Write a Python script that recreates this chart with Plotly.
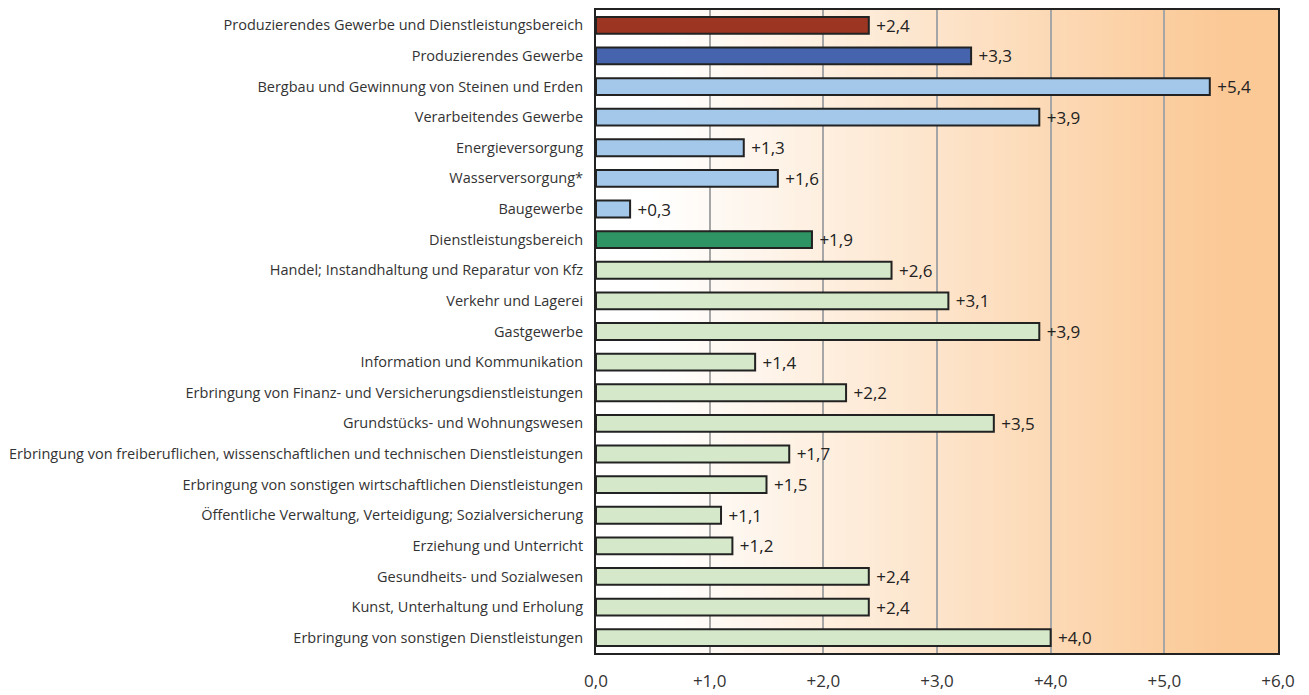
import plotly.graph_objects as go

categories = [
    "Produzierendes Gewerbe und Dienstleistungsbereich",
    "Produzierendes Gewerbe",
    "Bergbau und Gewinnung von Steinen und Erden",
    "Verarbeitendes Gewerbe",
    "Energieversorgung",
    "Wasserversorgung*",
    "Baugewerbe",
    "Dienstleistungsbereich",
    "Handel; Instandhaltung und Reparatur von Kfz",
    "Verkehr und Lagerei",
    "Gastgewerbe",
    "Information und Kommunikation",
    "Erbringung von Finanz- und Versicherungsdienstleistungen",
    "Grundstücks- und Wohnungswesen",
    "Erbringung von freiberuflichen, wissenschaftlichen und technischen Dienstleistungen",
    "Erbringung von sonstigen wirtschaftlichen Dienstleistungen",
    "Öffentliche Verwaltung, Verteidigung; Sozialversicherung",
    "Erziehung und Unterricht",
    "Gesundheits- und Sozialwesen",
    "Kunst, Unterhaltung und Erholung",
    "Erbringung von sonstigen Dienstleistungen",
]
values = [2.4, 3.3, 5.4, 3.9, 1.3, 1.6, 0.3, 1.9, 2.6, 3.1, 3.9, 1.4, 2.2, 3.5, 1.7, 1.5, 1.1, 1.2, 2.4, 2.4, 4.0]
groups = ["total", "prod", "prod_sub", "prod_sub", "prod_sub", "prod_sub", "prod_sub",
          "dl", "dl_sub", "dl_sub", "dl_sub", "dl_sub", "dl_sub", "dl_sub", "dl_sub",
          "dl_sub", "dl_sub", "dl_sub", "dl_sub", "dl_sub", "dl_sub"]
tick_vals = [0, 1, 2, 3, 4, 5, 6]
tick_text = ["0,0", "+1,0", "+2,0", "+3,0", "+4,0", "+5,0", "+6,0"]

group_colors = {
    "total": "#9C3522",
    "prod": "#4564AD",
    "prod_sub": "#A3C8EA",
    "dl": "#2E9463",
    "dl_sub": "#D5E8C9",
}

def fmt(v):
    return ("+" if v >= 0 else "") + f"{v:.1f}".replace(".", ",")

fig = go.Figure()
fig.add_trace(go.Bar(
    x=values, y=categories, orientation="h",
    marker=dict(color=[group_colors[g] for g in groups],
                line=dict(color="#222222", width=2)),
    width=0.55,
    text=[" " + fmt(v) for v in values],
    textposition="outside",
    constraintext="none",
    textfont=dict(family="Open Sans", size=17, color="#222222"),
    cliponaxis=False,
    hoverinfo="skip",
))

# gradient background (white -> peach) from left to right
shapes = []
n = 120
c0 = (255, 255, 255)
c1 = (251, 201, 150)
for i in range(n):
    xa = 6 * i / n
    xb = 6 * (i + 1) / n
    xm = (xa + xb) / 2
    t = min(max((xm - 0.5) / 5.0, 0), 1)
    col = tuple(round(c0[k] + (c1[k] - c0[k]) * t) for k in range(3))
    shapes.append(dict(type="rect", xref="x", yref="paper", x0=xa, x1=xb + 0.01, y0=0, y1=1,
                       fillcolor=f"rgb{col}", line=dict(width=0), layer="below"))

# page body has an 8px default margin; compensate so plot lands where intended
fig.update_layout(
    width=1301, height=687,
    margin=dict(l=588, r=31, t=0, b=42),
    paper_bgcolor="white",
    plot_bgcolor="white",
    showlegend=False,
    shapes=shapes,
    font=dict(family="Open Sans", color="#333333"),
)
fig.update_xaxes(
    range=[0, 6], tickvals=tick_vals, ticktext=tick_text,
    showgrid=True, gridcolor="#A6A6A6", gridwidth=2,
    zeroline=False, showline=True, linecolor="#222222", linewidth=2, mirror=True,
    ticks="outside", ticklen=12, tickcolor="rgba(0,0,0,0)",
    tickfont=dict(family="Open Sans", size=17, color="#333333"),
)
fig.update_yaxes(
    autorange="reversed", showgrid=False, zeroline=False,
    showline=True, linecolor="#222222", linewidth=2, mirror=True,
    ticks="outside", ticklen=8, tickcolor="rgba(0,0,0,0)",
    tickfont=dict(family="Open Sans", size=14.5, color="#333333"),
)

fig.write_html("out.html")
